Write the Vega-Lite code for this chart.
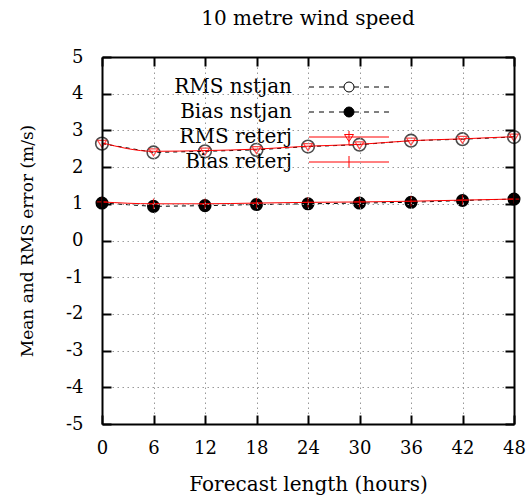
{
  "$schema": "https://vega.github.io/schema/vega-lite/v6.json",
  "width": 412,
  "height": 367,
  "autosize": {"type": "none"},
  "padding": {"left": 102, "top": 57, "right": 17, "bottom": 74},
  "title": {"text": "10 metre wind speed", "font": "DejaVu Serif", "fontSize": 20, "fontWeight": "normal", "color": "black", "offset": 19},
  "config": {
    "view": {"stroke": null},
    "axis": {
      "domainColor": "black", "domainWidth": 2,
      "tickColor": "black", "tickWidth": 2, "tickSize": -9,
      "gridColor": "#999999", "gridDash": [1.5, 3.5], "gridWidth": 1,
      "labelFont": "DejaVu Serif", "labelFontSize": 18, "labelColor": "black",
      "titleFont": "DejaVu Serif", "titleFontSize": 20, "titleFontWeight": "normal", "titleColor": "black"
    }
  },
  "data": {"values": [
    {"hour": 0, "series": "RMS nstjan", "value": 2.64},
    {"hour": 6, "series": "RMS nstjan", "value": 2.40},
    {"hour": 12, "series": "RMS nstjan", "value": 2.43},
    {"hour": 18, "series": "RMS nstjan", "value": 2.47},
    {"hour": 24, "series": "RMS nstjan", "value": 2.56},
    {"hour": 30, "series": "RMS nstjan", "value": 2.61},
    {"hour": 36, "series": "RMS nstjan", "value": 2.72},
    {"hour": 42, "series": "RMS nstjan", "value": 2.76},
    {"hour": 48, "series": "RMS nstjan", "value": 2.82},
    {"hour": 0, "series": "Bias nstjan", "value": 1.02},
    {"hour": 6, "series": "Bias nstjan", "value": 0.93},
    {"hour": 12, "series": "Bias nstjan", "value": 0.95},
    {"hour": 18, "series": "Bias nstjan", "value": 0.98},
    {"hour": 24, "series": "Bias nstjan", "value": 1.00},
    {"hour": 30, "series": "Bias nstjan", "value": 1.02},
    {"hour": 36, "series": "Bias nstjan", "value": 1.04},
    {"hour": 42, "series": "Bias nstjan", "value": 1.09},
    {"hour": 48, "series": "Bias nstjan", "value": 1.13},
    {"hour": 0, "series": "RMS reterj", "value": 2.66},
    {"hour": 6, "series": "RMS reterj", "value": 2.43},
    {"hour": 12, "series": "RMS reterj", "value": 2.45},
    {"hour": 18, "series": "RMS reterj", "value": 2.49},
    {"hour": 24, "series": "RMS reterj", "value": 2.57},
    {"hour": 30, "series": "RMS reterj", "value": 2.62},
    {"hour": 36, "series": "RMS reterj", "value": 2.72},
    {"hour": 42, "series": "RMS reterj", "value": 2.77},
    {"hour": 48, "series": "RMS reterj", "value": 2.83},
    {"hour": 0, "series": "Bias reterj", "value": 1.05},
    {"hour": 6, "series": "Bias reterj", "value": 1.00},
    {"hour": 12, "series": "Bias reterj", "value": 1.00},
    {"hour": 18, "series": "Bias reterj", "value": 1.02},
    {"hour": 24, "series": "Bias reterj", "value": 1.04},
    {"hour": 30, "series": "Bias reterj", "value": 1.05},
    {"hour": 36, "series": "Bias reterj", "value": 1.07},
    {"hour": 42, "series": "Bias reterj", "value": 1.10},
    {"hour": 48, "series": "Bias reterj", "value": 1.13}
  ]},
  "resolve": {"axis": {"x": "independent", "y": "independent"}},
  "layer": [
    {
      "mark": {"type": "rect", "fill": "white"},
      "encoding": {
        "x": {"datum": 0.25, "type": "quantitative", "scale": {"domain": [0, 48], "nice": false, "zero": false}, "axis": null},
        "x2": {"datum": 35.5},
        "y": {"datum": 4.95, "type": "quantitative", "scale": {"domain": [-5, 5], "nice": false, "zero": false}, "axis": null},
        "y2": {"datum": 1.93}
      }
    },
    {
      "transform": [{"filter": {"field": "series", "oneOf": ["RMS nstjan", "Bias nstjan"]}}],
      "mark": {"type": "line", "color": "black", "strokeWidth": 1, "strokeDash": [4, 4]},
      "encoding": {
        "x": {"field": "hour", "type": "quantitative", "scale": {"domain": [0, 48], "nice": false, "zero": false},
              "axis": {"title": "Forecast length (hours)", "values": [0, 6, 12, 18, 24, 30, 36, 42, 48], "grid": true, "labelPadding": 24, "titlePadding": 17, "labelFlush": false, "zindex": 1}},
        "y": {"field": "value", "type": "quantitative", "scale": {"domain": [-5, 5], "nice": false, "zero": false},
              "axis": {"title": "Mean and RMS error (m/s)", "titleFontSize": 17, "values": [-5, -4, -3, -2, -1, 0, 1, 2, 3, 4, 5], "grid": true, "labelPadding": 28, "titlePadding": 29, "labelExpr": "'' + datum.value", "zindex": 1}},
        "detail": {"field": "series"}
      }
    },
    {
      "transform": [{"filter": {"field": "series", "equal": "RMS nstjan"}}],
      "mark": {"type": "point", "shape": "circle", "filled": false, "stroke": "black", "strokeWidth": 1.6, "size": 160},
      "encoding": {
        "x": {"field": "hour", "type": "quantitative", "axis": null},
        "y": {"field": "value", "type": "quantitative", "axis": null}
      }
    },
    {
      "transform": [{"filter": {"field": "series", "equal": "Bias nstjan"}}],
      "mark": {"type": "point", "shape": "circle", "filled": true, "fill": "black", "opacity": 1, "size": 170},
      "encoding": {
        "x": {"field": "hour", "type": "quantitative", "axis": null},
        "y": {"field": "value", "type": "quantitative", "axis": null}
      }
    },
    {
      "transform": [{"filter": {"field": "series", "oneOf": ["RMS reterj", "Bias reterj"]}}],
      "mark": {"type": "line", "color": "red", "strokeWidth": 1, "interpolate": "monotone"},
      "encoding": {
        "x": {"field": "hour", "type": "quantitative", "axis": null},
        "y": {"field": "value", "type": "quantitative", "axis": null},
        "detail": {"field": "series"}
      }
    },
    {
      "transform": [{"filter": {"field": "series", "equal": "RMS reterj"}}],
      "mark": {"type": "point", "shape": "M-0.9,-0.5L0.9,-0.5L0,0.9Z", "filled": false, "stroke": "red", "strokeWidth": 1.2, "size": 100},
      "encoding": {
        "x": {"field": "hour", "type": "quantitative", "axis": null},
        "y": {"field": "value", "type": "quantitative", "axis": null}
      }
    },
    {
      "transform": [{"filter": {"field": "series", "equal": "Bias reterj"}}],
      "mark": {"type": "point", "shape": "M-1,0H1M0,-1V1", "filled": false, "stroke": "red", "strokeWidth": 1.2, "size": 110},
      "encoding": {
        "x": {"field": "hour", "type": "quantitative", "axis": null},
        "y": {"field": "value", "type": "quantitative", "axis": null}
      }
    },
    {
      "mark": {"type": "point", "opacity": 0},
      "encoding": {
        "x": {"field": "hour", "type": "quantitative",
              "axis": {"orient": "top", "values": [0, 6, 12, 18, 24, 30, 36, 42, 48], "labels": false, "title": null, "grid": false, "zindex": 1}},
        "y": {"field": "value", "type": "quantitative",
              "axis": {"orient": "right", "values": [-5, -4, -3, -2, -1, 0, 1, 2, 3, 4, 5], "labels": false, "title": null, "grid": false, "zindex": 1}},
        "shape": {"field": "series", "type": "nominal",
          "scale": {"domain": ["RMS nstjan", "Bias nstjan", "RMS reterj", "Bias reterj"],
                    "range": [
                      "M0,-1.7M0,1.7M-8,0H-7M-6,0H-5M-4,0H-3M-2,0H-1M1,0H2M3,0H4M5,0H6M7,0H8M1,0A1,1,0,1,1,-1,0A1,1,0,1,1,1,0Z",
                      "M0,-1.7M0,1.7M-8,0H-7M-6,0H-5M-4,0H-3M-2,0H-1M1,0H2M3,0H4M5,0H6M7,0H8M1,0A1,1,0,1,1,-1,0A1,1,0,1,1,1,0Z",
                      "M0,-1.7M0,1.7M-8,0H8M0,-1.2V1.7M-0.9,-0.5L0.9,-0.5L0,0.9Z",
                      "M0,-1.7M0,1.7M-8,0H8M0,-1.2V1.2"
                    ]},
          "legend": {"title": null, "orient": "none", "legendX": 237, "legendY": 20, "labelAlign": "right", "labelOffset": -67,
                     "labelFont": "DejaVu Serif", "labelFontSize": 20, "labelColor": "black", "symbolSize": 100,
                     "symbolStrokeWidth": 1, "symbolOpacity": 1, "rowPadding": 3}},
        "stroke": {"field": "series", "type": "nominal",
          "scale": {"domain": ["RMS nstjan", "Bias nstjan", "RMS reterj", "Bias reterj"], "range": ["black", "black", "red", "red"]}},
        "fill": {"field": "series", "type": "nominal",
          "scale": {"domain": ["RMS nstjan", "Bias nstjan", "RMS reterj", "Bias reterj"], "range": ["transparent", "black", "transparent", "transparent"]}}
      }
    }
  ]
}
